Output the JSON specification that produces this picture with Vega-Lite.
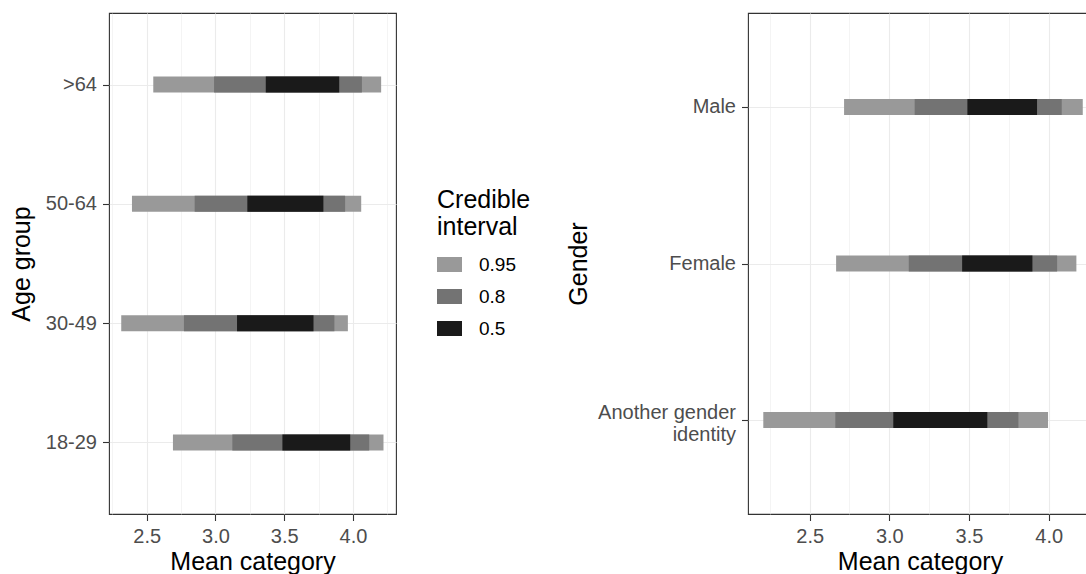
{
  "$schema": "https://vega.github.io/schema/vega-lite/v6.json",
  "padding": {"left": 8, "top": 12, "right": 0, "bottom": 0},
  "datasets": {
    "age": [
      {"group": ">64", "interval": "0.95", "lower": 2.548, "upper": 4.205},
      {"group": ">64", "interval": "0.8", "lower": 2.99, "upper": 4.065},
      {"group": ">64", "interval": "0.5", "lower": 3.366, "upper": 3.9},
      {"group": "50-64", "interval": "0.95", "lower": 2.393, "upper": 4.06},
      {"group": "50-64", "interval": "0.8", "lower": 2.849, "upper": 3.943},
      {"group": "50-64", "interval": "0.5", "lower": 3.232, "upper": 3.785},
      {"group": "30-49", "interval": "0.95", "lower": 2.315, "upper": 3.963},
      {"group": "30-49", "interval": "0.8", "lower": 2.771, "upper": 3.865},
      {"group": "30-49", "interval": "0.5", "lower": 3.157, "upper": 3.713},
      {"group": "18-29", "interval": "0.95", "lower": 2.691, "upper": 4.222},
      {"group": "18-29", "interval": "0.8", "lower": 3.123, "upper": 4.118},
      {"group": "18-29", "interval": "0.5", "lower": 3.487, "upper": 3.98}
    ],
    "gender": [
      {"group": "Male", "interval": "0.95", "lower": 2.716, "upper": 4.214},
      {"group": "Male", "interval": "0.8", "lower": 3.159, "upper": 4.082},
      {"group": "Male", "interval": "0.5", "lower": 3.49, "upper": 3.927},
      {"group": "Female", "interval": "0.95", "lower": 2.666, "upper": 4.174},
      {"group": "Female", "interval": "0.8", "lower": 3.122, "upper": 4.053},
      {"group": "Female", "interval": "0.5", "lower": 3.457, "upper": 3.898},
      {"group": "Another gender identity", "interval": "0.95", "lower": 2.209, "upper": 3.996},
      {"group": "Another gender identity", "interval": "0.8", "lower": 2.661, "upper": 3.81},
      {"group": "Another gender identity", "interval": "0.5", "lower": 3.025, "upper": 3.615}
    ]
  },
  "config": {
    "font": "Liberation Sans",
    "view": {"stroke": "#333333", "strokeWidth": 1.1},
    "axis": {
      "domain": false,
      "tickColor": "#333333",
      "tickSize": 6.5,
      "tickWidth": 1.1,
      "labelColor": "#4d4d4d",
      "labelFontSize": 20,
      "labelPadding": 6,
      "titleFontSize": 25,
      "titleFontWeight": "normal",
      "titleColor": "#000000",
      "gridColor": "#ebebeb",
      "gridWidth": 1.1
    },
    "legend": {
      "titleFontSize": 25,
      "titleFontWeight": "normal",
      "titleColor": "#000000",
      "titleLineHeight": 27,
      "labelFontSize": 19,
      "labelColor": "#000000"
    }
  },
  "hconcat": [
    {
      "width": 287,
      "height": 501,
      "data": {"name": "age"},
      "mark": {"type": "bar", "height": 16},
      "encoding": {
        "y": {
          "field": "group",
          "type": "nominal",
          "sort": [">64", "50-64", "30-49", "18-29"],
          "scale": {"type": "point", "padding": 0.6},
          "title": "Age group",
          "axis": {"titlePadding": 11, "grid": true}
        },
        "x": {
          "field": "lower",
          "type": "quantitative",
          "scale": {"domain": [2.226, 4.313], "nice": false, "zero": false},
          "title": "Mean category",
          "axis": {
            "values": [2.25, 2.5, 2.75, 3, 3.25, 3.5, 3.75, 4, 4.25],
            "labelExpr": "round(datum.value * 4) % 2 == 1 ? '' : format(datum.value, '.1f')",
            "tickOpacity": {"condition": {"test": "round(datum.value * 4) % 2 == 1", "value": 0}, "value": 1},
            "gridWidth": {"condition": {"test": "round(datum.value * 4) % 2 == 1", "value": 0.55}, "value": 1.1},
            "titlePadding": 3
          }
        },
        "x2": {"field": "upper"},
        "color": {
          "field": "interval",
          "type": "nominal",
          "scale": {"domain": ["0.95", "0.8", "0.5"], "range": ["#999999", "#737373", "#1a1a1a"]},
          "legend": {
            "title": ["Credible", "interval"],
            "orient": "none",
            "legendX": 328,
            "legendY": 175,
            "symbolType": "M-1,-0.6H1V0.6H-1Z",
            "symbolSize": 625,
            "symbolStrokeWidth": 0,
            "symbolOpacity": 1,
            "labelOffset": 17,
            "rowPadding": 9,
            "titlePadding": 12
          }
        }
      }
    },
    {
      "width": 344,
      "height": 501,
      "data": {"name": "gender"},
      "mark": {"type": "bar", "height": 16},
      "encoding": {
        "y": {
          "field": "group",
          "type": "nominal",
          "sort": ["Male", "Female", "Another gender identity"],
          "scale": {"type": "point", "padding": 0.6},
          "title": "Gender",
          "axis": {
            "titlePadding": 6,
            "grid": true,
            "labelExpr": "datum.label == 'Another gender identity' ? ['Another gender', 'identity'] : datum.label",
            "labelLineHeight": 22,
            "labelOffset": {"condition": {"test": "datum.label == 'Another gender identity'", "value": -8}, "value": 0}
          }
        },
        "x": {
          "field": "lower",
          "type": "quantitative",
          "scale": {"domain": [2.113, 4.272], "nice": false, "zero": false},
          "title": "Mean category",
          "axis": {
            "values": [2.25, 2.5, 2.75, 3, 3.25, 3.5, 3.75, 4, 4.25],
            "labelExpr": "round(datum.value * 4) % 2 == 1 ? '' : format(datum.value, '.1f')",
            "tickOpacity": {"condition": {"test": "round(datum.value * 4) % 2 == 1", "value": 0}, "value": 1},
            "gridWidth": {"condition": {"test": "round(datum.value * 4) % 2 == 1", "value": 0.55}, "value": 1.1},
            "titlePadding": 3
          }
        },
        "x2": {"field": "upper"},
        "color": {
          "field": "interval",
          "type": "nominal",
          "scale": {"domain": ["0.95", "0.8", "0.5"], "range": ["#999999", "#737373", "#1a1a1a"]},
          "legend": null
        }
      }
    }
  ],
  "spacing": 34,
  "resolve": {"scale": {"color": "independent"}, "legend": {"color": "independent"}}
}
